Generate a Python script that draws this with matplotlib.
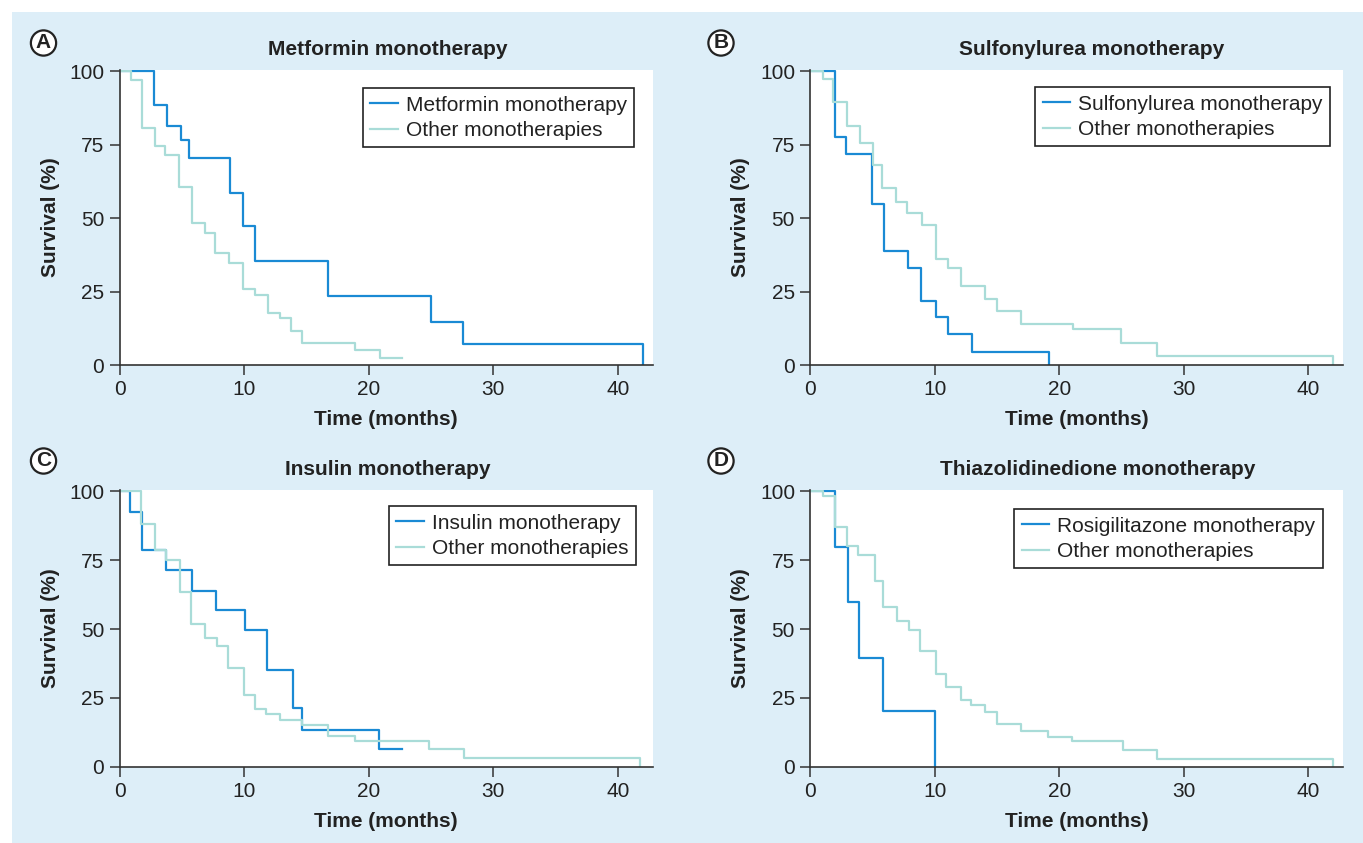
import matplotlib
matplotlib.use('Agg')
import matplotlib.pyplot as plt
from matplotlib.patches import Rectangle

plt.rcParams['font.family'] = ['Liberation Sans', 'DejaVu Sans']

# Kaplan-Meier curves (months, survival %)
metformin_t = [0, 2.8, 3.8, 4.9, 5.6, 8.9, 9.9, 10.9, 16.75, 25.0, 27.6, 42.0]
metformin_s = [100, 88.5, 81.5, 76.5, 70.6, 58.5, 47.2, 35.4, 23.6, 14.7, 7.2, 0]
other_a_t = [0, 0.9, 1.8, 2.85, 3.65, 4.8, 5.8, 6.9, 7.7, 8.75, 9.95, 10.9, 11.9, 12.9,
             13.75, 14.65, 18.9, 20.9, 22.65]
other_a_s = [100, 97.2, 80.8, 74.7, 71.5, 60.7, 48.4, 45.0, 38.2, 34.7, 26.0, 23.7, 17.6,
             15.9, 11.7, 7.6, 5.1, 2.5, 2.5]

sulfonylurea_t = [0, 1.98, 2.83, 4.97, 5.94, 7.81, 8.9, 10.08, 11.04, 12.97, 19.14]
sulfonylurea_s = [100, 77.7, 72.0, 55.0, 38.8, 33.2, 21.8, 16.3, 10.7, 4.5, 0]
other_b_t = [0, 0.99, 1.84, 2.91, 3.96, 5.0, 5.75, 6.87, 7.78, 8.98, 10.13, 11.02, 12.14,
             14.04, 15.0, 16.9, 21.1, 24.97, 27.83, 42.0]
other_b_s = [100, 97.5, 89.6, 81.4, 75.6, 68.3, 60.2, 55.7, 51.9, 47.6, 36.2, 33.2, 26.8,
             22.6, 18.4, 13.8, 12.1, 7.4, 3.0, 0]

insulin_t = [0, 0.86, 1.79, 3.74, 5.8, 7.73, 10.05, 11.87, 13.93, 14.65, 20.8, 22.7]
insulin_s = [100, 92.5, 78.6, 71.3, 63.7, 56.8, 49.6, 35.3, 21.2, 13.3, 6.3, 6.3]
other_c_t = [0, 1.71, 2.86, 3.74, 4.87, 5.72, 6.87, 7.81, 8.74, 10.0, 10.86, 11.74, 12.91,
             14.65, 16.74, 18.93, 24.84, 27.67, 41.8]
other_c_s = [100, 88.3, 78.6, 75.0, 63.5, 52.0, 46.9, 43.8, 35.7, 26.0, 20.8, 19.3, 16.9,
             15.1, 11.2, 9.3, 6.3, 3.0, 0]

rosi_t = [0, 1.98, 3.05, 3.88, 5.83, 10.03]
rosi_s = [100, 79.8, 60.0, 39.5, 20.2, 0]
other_d_t = [0, 1.04, 1.98, 2.91, 3.85, 5.19, 5.86, 6.95, 7.94, 8.8, 10.13, 10.91, 12.09,
             12.94, 14.01, 15.03, 16.9, 19.12, 21.04, 25.1, 27.8, 42.0]
other_d_s = [100, 98.5, 87.1, 80.3, 76.9, 67.4, 58.0, 53.1, 49.7, 42.0, 33.7, 28.9, 24.2,
             22.5, 19.8, 15.5, 13.1, 10.9, 9.2, 6.0, 2.7, 0]

titles = ['Metformin monotherapy', 'Sulfonylurea monotherapy',
          'Insulin monotherapy', 'Thiazolidinedione monotherapy']
main_labels = ['Metformin monotherapy', 'Sulfonylurea monotherapy',
               'Insulin monotherapy', 'Rosigilitazone monotherapy']
other_label = 'Other monotherapies'
panel_letters = ['A', 'B', 'C', 'D']

DARK = '#1a8ad4'
LIGHT = '#a9dcd8'
BG = '#ddeef8'
W, H = 1363, 843
FS = 15


def px_axes(fig, left, top, right, bottom):
    # axes placed from pixel coordinates of the reference
    return fig.add_axes([left / W, 1 - bottom / H, (right - left) / W, (bottom - top) / H])


def draw_panel(ax, main_t, main_s, oth_t, oth_s, title, main_label, title_x, leg_xy):
    ax.step(main_t, main_s, where='post', color=DARK, lw=1.6, label=main_label)
    ax.step(oth_t, oth_s, where='post', color=LIGHT, lw=1.6, label=other_label)
    ax.set_xlim(0, 42.8)
    ax.set_ylim(0, 100.5)
    ax.set_xticks([0, 10, 20, 30, 40])
    ax.set_yticks([0, 25, 50, 75, 100])
    for s in ['top', 'right']:
        ax.spines[s].set_visible(False)
    for s in ['left', 'bottom']:
        ax.spines[s].set_color('#333333')
        ax.spines[s].set_linewidth(1.2)
    ax.tick_params(direction='out', length=7, width=1.1, colors='#333333',
                   labelsize=FS, labelcolor='#222222', pad=4)
    ax.set_xlabel('Time (months)', fontsize=FS, fontweight='bold', color='#222222')
    ax.set_ylabel('Survival (%)', fontsize=FS, fontweight='bold', color='#222222')
    ax.set_title(title, fontsize=FS, fontweight='bold', color='#222222', pad=11, x=title_x)
    ax.yaxis.set_label_coords(-60 / 533.2, 0.5)
    leg = ax.legend(loc='upper right', bbox_to_anchor=leg_xy, borderaxespad=0,
                    fontsize=FS, fancybox=False, framealpha=1, edgecolor='#222222',
                    handlelength=1.3, handletextpad=0.4, borderpad=0.35, labelspacing=0.3)
    leg.get_frame().set_linewidth(1.2)
    for t in leg.get_texts():
        t.set_color('#222222')


fig = plt.figure(figsize=(W / 100, H / 100), dpi=100)
fig.patches.append(Rectangle((12 / W, 0), 1, 1 - 12 / H, transform=fig.transFigure,
                             facecolor=BG, edgecolor='none', zorder=-10))

ax_a = px_axes(fig, 119.5, 70, 652.7, 365)
ax_b = px_axes(fig, 810.3, 70, 1343.3, 365)
ax_c = px_axes(fig, 119.5, 490, 652.7, 766.7)
ax_d = px_axes(fig, 810.3, 490, 1343.3, 766.7)

draw_panel(ax_a, metformin_t, metformin_s, other_a_t, other_a_s, titles[0], main_labels[0],
           0.504, (0.9655, 0.938))
draw_panel(ax_b, sulfonylurea_t, sulfonylurea_s, other_b_t, other_b_s, titles[1], main_labels[1],
           0.527, (0.975, 0.941))
draw_panel(ax_c, insulin_t, insulin_s, other_c_t, other_c_s, titles[2], main_labels[2],
           0.503, (0.968, 0.941))
draw_panel(ax_d, rosi_t, rosi_s, other_d_t, other_d_s, titles[3], main_labels[3],
           0.540, (0.961, 0.930))

ax_a.xaxis.set_label_coords(0.5, -45 / 295)
ax_b.xaxis.set_label_coords(0.5, -45 / 295)
ax_c.xaxis.set_label_coords(0.5, -45 / 276.7)
ax_d.xaxis.set_label_coords(0.5, -45 / 276.7)

# circled panel letters
for letter, (x, y) in zip(panel_letters, [(43.5, 43), (721, 43), (43.5, 461), (721, 461)]):
    fig.text(x / W, 1 - y / H, letter, fontsize=FS, fontweight='bold', ha='center', va='center',
             color='#222222',
             bbox=dict(boxstyle='circle,pad=0.15', fc='white', ec='#222222', lw=1.6))

fig.savefig('out.png', dpi=100, facecolor='white')
